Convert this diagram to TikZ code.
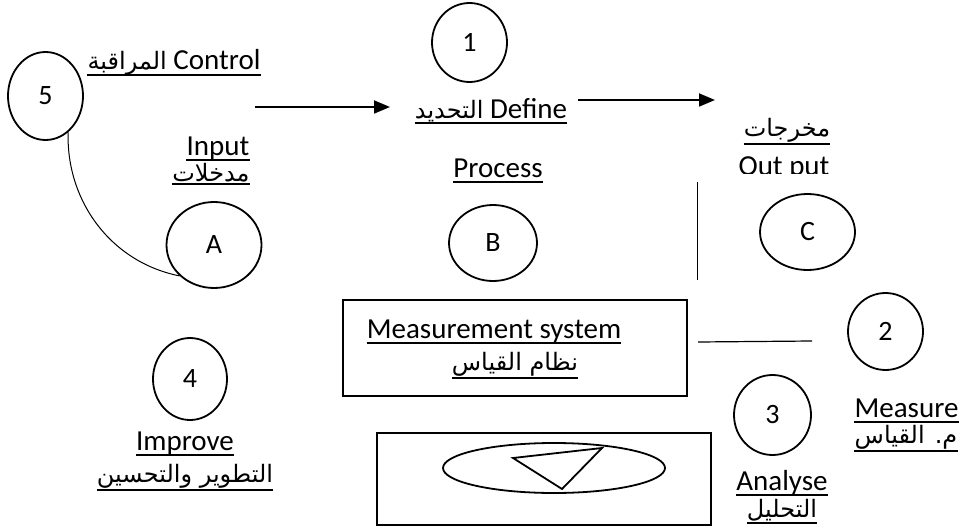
\documentclass[tikz,border=0pt]{standalone}
\usepackage{fontspec}
\setmainfont{Carlito}
\newfontfamily\arabicfont[Script=Arabic]{DejaVu Sans}
\TeXXeTstate=1
\usetikzlibrary{arrows.meta,shapes.geometric}
\tikzset{>={Triangle[length=16pt,width=13pt]}}
\tikzset{
  stage/.style={draw,ellipse,line width=1.8pt,inner sep=0pt,
    minimum width=75pt,minimum height=80pt,font=\fontsize{28}{32}\selectfont},
  lbl/.style={anchor=base,inner sep=0pt,font=\fontsize{29}{34}\selectfont},
  uline/.style={line width=2.4pt},
  frame/.style={draw,line width=1.8pt,inner sep=0pt}
}
\newcommand*{\artxt}[1]
  {{\arabicfont\fontsize{24}{30}\selectfont\beginR #1\endR}}

\begin{document}
\begin{tikzpicture}[x=1pt,y=-1pt]
\useasboundingbox (0,0) rectangle (963,532);
% circles
\node[stage,minimum height=88pt] (c5) at (45.5,96) {5};
\node[stage,minimum height=79pt] (c1) at (469.5,42.5) {1};
\node[stage,minimum width=95pt,minimum height=86pt] (cA) at (214,245) {A};
\node[stage,minimum width=88pt,minimum height=76pt] (cB) at (493,243) {B};
\node[stage,minimum width=95pt,minimum height=76pt] (cC) at (807.5,232) {C};
\node[stage,minimum height=77pt] (c2) at (885.5,331.5) {2};
\node[stage,minimum width=77pt] (c3) at (772.5,415) {3};
\node[stage,minimum width=74pt,minimum height=82pt] (c4) at (190,379) {4};
% labels
\node[lbl] (control) at (174,70) {\artxt{المراقبة} Control};
\node[lbl] (define) at (491,118) {\artxt{التحديد} Define};
\node[lbl] (input) at (218,155) {Input};
\node[lbl] (inputar) at (211,181) {\artxt{مدخلات}};
\node[lbl] (process) at (498,177) {Process};
\node[lbl] (outputar) at (787,136) {\artxt{مخرجات}};
\begin{scope}
\clip (720,140) rectangle (850,173);
\node[lbl] (output) at (784,175) {Out put};
\end{scope}
\node[lbl] (measure) at (906.5,417) {Measure};
\node[lbl] (measurear) at (906,443) {\artxt{م. القياس}};
\node[lbl] (analyse) at (782,490) {Analyse};
\node[lbl] (analysear) at (782,517) {\artxt{التحليل}};
\node[lbl] (improve) at (185,450) {Improve};
\node[lbl] (improvear) at (185,482) {\artxt{التطوير والتحسين}};
% measurement system
\node[frame,minimum width=344pt,minimum height=96pt] (msys) at (515,348) {};
\node[lbl] (mstext) at (494,338) {Measurement system};
\node[lbl] (mstextar) at (515,370) {\artxt{نظام القياس}};
\node[frame,minimum width=334pt,minimum height=92pt] (gauge) at (544,479) {};
\node[draw,ellipse,line width=1.8pt,minimum width=222pt,minimum height=50pt] (dial) at (554,468) {};
\draw[line width=1.8pt,line join=miter] (513,458) -- (602,448) -- (562,489) -- cycle;
% underlines
\foreach \n in {control,define,input,process,measure,analyse,improve,mstext}
  \draw[uline] ([yshift=-5pt]\n.base west) -- ([yshift=-5pt]\n.base east);
\foreach \n in {inputar,outputar,measurear,analysear,improvear,mstextar}
  \draw[uline] ([yshift=-2pt]\n.south west) -- ([yshift=-2pt]\n.south east);
% connectors
\coordinate (inArr) at (255,107);
\coordinate (outArr) at (715,100);
\coordinate (vTop) at (697.5,182);
\coordinate (vBot) at (697.5,280);
\coordinate (mL) at (698,342);
\coordinate (mR) at (812,341);
\draw[->,line width=1.8pt] (inArr) -- (390,107);
\draw[->,line width=1.8pt] (578,100) -- (outArr);
\draw[line width=1pt] (c5.-58) .. controls (66,200) and (110,262) .. (cA.222);
\draw[line width=1.2pt] (vTop) -- (vBot);
\draw[line width=1.2pt] (mL) -- (mR);
\end{tikzpicture}
\end{document}
